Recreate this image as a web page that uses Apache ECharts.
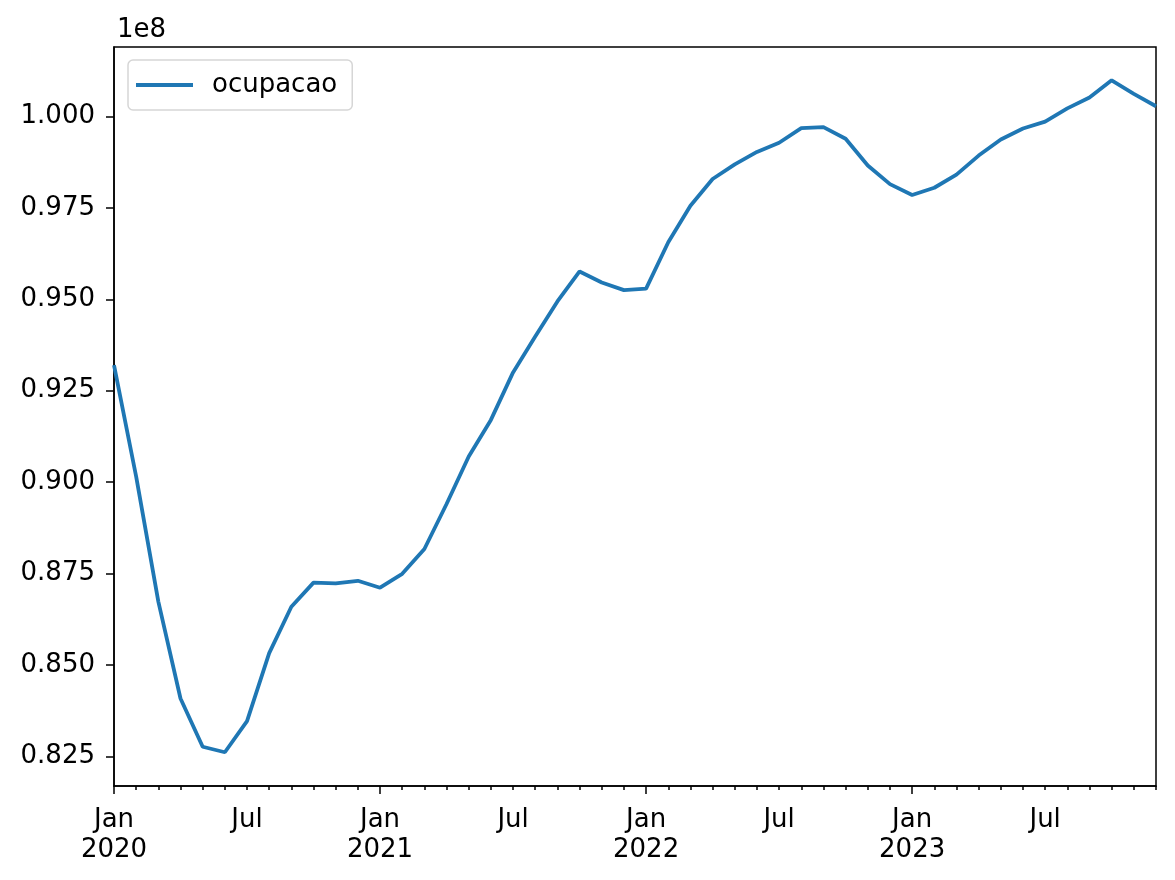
<!DOCTYPE html>
<html>
<head>
<meta charset="utf-8">
<title>ocupacao</title>
<script src="https://cdn.jsdelivr.net/npm/echarts@6/dist/echarts.min.js"></script>
<style>
  html, body { margin: 0; padding: 0; background: #fff; }
  #chart { width: 1175px; height: 880px; }
</style>
</head>
<body>
<div id="chart"></div>
<script>
// meses (jan/2020 .. dez/2023)
var months = [
  '2020-01','2020-02','2020-03','2020-04','2020-05','2020-06','2020-07','2020-08','2020-09','2020-10','2020-11','2020-12',
  '2021-01','2021-02','2021-03','2021-04','2021-05','2021-06','2021-07','2021-08','2021-09','2021-10','2021-11','2021-12',
  '2022-01','2022-02','2022-03','2022-04','2022-05','2022-06','2022-07','2022-08','2022-09','2022-10','2022-11','2022-12',
  '2023-01','2023-02','2023-03','2023-04','2023-05','2023-06','2023-07','2023-08','2023-09','2023-10','2023-11','2023-12'
];

// pessoas ocupadas
var ocupacao = [
  93200000, 90150000, 86730000, 84080000, 82760000, 82610000, 83460000, 85320000, 86590000, 87250000, 87230000, 87300000,
  87110000, 87490000, 88170000, 89400000, 90700000, 91700000, 93000000, 93980000, 94940000, 95760000, 95460000, 95250000,
  95290000, 96560000, 97560000, 98290000, 98690000, 99030000, 99280000, 99680000, 99710000, 99390000, 98660000, 98150000,
  97850000, 98050000, 98410000, 98930000, 99370000, 99670000, 99860000, 100220000, 100520000, 100990000, 100620000, 100280000
];

// ticks do eixo y
var yTicks = [82500000, 85000000, 87500000, 90000000, 92500000, 95000000, 97500000, 100000000];
// ticks do eixo x (indice do mes)
var xLabelTicks = [0, 6, 12, 18, 24, 30, 36, 42];
var xMajorTicks = [0, 12, 24, 36];
var monthNames = ['Jan','Feb','Mar','Apr','May','Jun','Jul','Aug','Sep','Oct','Nov','Dec'];

var chart = echarts.init(document.getElementById('chart'));
var FONT = 'DejaVu Sans';
var FS = 26;

var minorTicks = months.map(function (m, i) { return i; });

var option = {
  animation: false,
  textStyle: { fontFamily: FONT, color: '#000' },
  title: {
    text: '1e8',
    left: 112,
    top: 12,
    textStyle: { fontFamily: FONT, fontSize: FS, fontWeight: 'normal', color: '#000' }
  },
  legend: {
    left: 128,
    top: 60,
    padding: [12, 15, 12, 8],
    itemWidth: 57,
    itemHeight: 4,
    borderColor: '#d6d6d6',
    borderWidth: 1.5,
    borderRadius: 5,
    backgroundColor: 'rgba(255,255,255,0.8)',
    textStyle: { fontFamily: FONT, fontSize: FS, color: '#000', padding: [0, 0, 0, 14] },
    data: [{ name: 'ocupacao', icon: 'rect' }]
  },
  grid: {
    left: 114,
    top: 47,
    right: 19,
    bottom: 94,
    show: true,
    borderColor: '#000',
    borderWidth: 1.5,
    backgroundColor: '#fff'
  },
  xAxis: [
    {
      type: 'value',
      min: 0,
      max: months.length - 1,
      axisLine: { show: true, lineStyle: { color: '#000', width: 1.5 } },
      axisTick: { show: true, customValues: minorTicks, length: 4, lineStyle: { color: '#000', width: 1.5 } },
      axisLabel: { show: false },
      splitLine: { show: false }
    },
    {
      type: 'value',
      min: 0,
      max: months.length - 1,
      position: 'bottom',
      axisLine: { show: false },
      axisTick: { show: true, customValues: xMajorTicks, length: 8, lineStyle: { color: '#000', width: 1.5 } },
      axisLabel: {
        customValues: xLabelTicks,
        margin: 19,
        fontFamily: FONT,
        fontSize: FS,
        lineHeight: 30,
        color: '#000',
        verticalAlign: 'top',
        formatter: function (v) {
          var m = months[Math.round(v)];
          var parts = m.split('-');
          var mi = parseInt(parts[1], 10) - 1;
          return mi === 0 ? monthNames[mi] + '\n' + parts[0] : monthNames[mi];
        }
      },
      splitLine: { show: false }
    }
  ],
  yAxis: {
    type: 'value',
    min: 81687000,
    max: 101900000,
    axisLine: { show: true, lineStyle: { color: '#000', width: 1.5 } },
    axisTick: { show: true, customValues: yTicks, length: 8, lineStyle: { color: '#000', width: 1.5 } },
    axisLabel: {
      customValues: yTicks,
      margin: 19,
      fontFamily: FONT,
      fontSize: FS,
      color: '#000',
      formatter: function (v) { return (v / 1e8).toFixed(3); }
    },
    splitLine: { show: false }
  },
  series: [
    {
      name: 'ocupacao',
      type: 'line',
      xAxisIndex: 0,
      symbol: 'none',
      lineStyle: { color: '#1f77b4', width: 3.8 },
      itemStyle: { color: '#1f77b4' },
      data: ocupacao.map(function (v, i) { return [i, v]; })
    }
  ]
};

chart.setOption(option);
</script>
</body>
</html>
